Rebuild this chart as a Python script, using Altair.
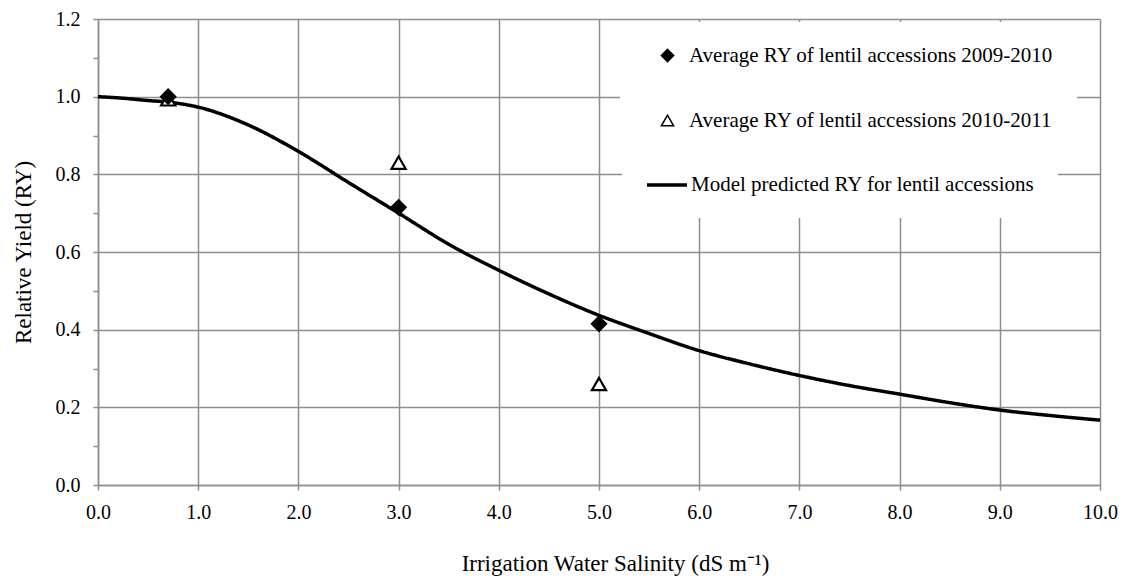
import altair as alt
import pandas as pd

# Model curve
curve_x = [0.0, 0.25, 0.5, 0.7, 1.0, 1.5, 2.0, 2.5, 3.0, 3.5, 4.0, 4.5, 5.0, 5.5,
           6.0, 6.5, 7.0, 7.5, 8.0, 8.5, 9.0, 9.5, 10.0]
curve_y = [1.0, 0.996, 0.99, 0.986, 0.973, 0.927, 0.859, 0.779, 0.700, 0.620, 0.553,
           0.492, 0.437, 0.390, 0.346, 0.312, 0.282, 0.256, 0.234, 0.212, 0.193, 0.179, 0.167]

# Observations
s1_name = "Average RY of lentil accessions 2009-2010"
s2_name = "Average RY of lentil accessions 2010-2011"
line_name = "Model predicted RY for lentil accessions"
s1_x = [0.7, 3.0, 5.0]
s1_y = [1.0, 0.715, 0.415]
s2_x = [0.7, 3.0, 5.0]
s2_y = [0.993, 0.83, 0.26]

FONT = "Liberation Serif"
GRID = "#8e8e8e"

curve_df = pd.DataFrame({"x": curve_x, "y": curve_y, "series": line_name})
pts_df = pd.DataFrame({
    "x": s2_x + s1_x,
    "y": s2_y + s1_y,
    "series": [s2_name] * len(s2_x) + [s1_name] * len(s1_x),
})

x_enc = alt.X(
    "x:Q",
    scale=alt.Scale(domain=[0, 10], nice=False),
    axis=alt.Axis(
        values=list(range(0, 11)),
        format=".1f",
        title="Irrigation Water Salinity (dS m⁻¹)",
        titleX=517,
        titlePadding=30,
        labelPadding=12,
        labelFlush=False,
    ),
)
y_enc = alt.Y(
    "y:Q",
    scale=alt.Scale(domain=[0, 1.2], nice=False),
    axis=alt.Axis(
        values=[round(i * 0.1, 1) for i in range(0, 13)],
        labelExpr="round(datum.value*10) % 2 == 0 ? format(datum.value, '.1f') : ''",
        gridOpacity={"condition": {"test": "round(datum.value*10) % 2 == 1", "value": 0}, "value": 1},
        title="Relative Yield (RY)",
        titlePadding=20,
        labelPadding=13,
        labelFlush=False,
    ),
)

pt_legend = alt.Legend(
    title=None,
    orient="none",
    legendX=522,
    legendY=3,
    padding=23,
    fillColor="white",
    symbolOffset=14,
    symbolSize=150,
    symbolStrokeColor="black",
    symbolStrokeWidth=1.5,
    labelOffset=11,
    rowPadding=43,
    labelFont=FONT,
    labelFontSize=21,
    labelColor="black",
    labelLimit=600,
)

shape_scale = alt.Scale(domain=[s1_name, s2_name], range=["diamond", "triangle-up"])
fill_scale = alt.Scale(domain=[s1_name, s2_name], range=["black", "white"])

points = alt.Chart(pts_df).mark_point(
    filled=True, stroke="black", strokeWidth=2.2, size=200, opacity=1
).encode(
    x=x_enc,
    y=y_enc,
    shape=alt.Shape("series:N", scale=shape_scale, legend=pt_legend),
    color=alt.Color("series:N", scale=fill_scale, legend=pt_legend),
)

line = alt.Chart(curve_df).mark_line(
    color="black", strokeWidth=3.5, interpolate="monotone"
).encode(
    x=x_enc,
    y=y_enc,
    strokeDash=alt.StrokeDash(
        "series:N",
        scale=alt.Scale(domain=[line_name], range=[[1, 0]]),
        legend=alt.Legend(
            title=None,
            orient="none",
            legendX=524,
            legendY=121,
            padding=23,
            fillColor="white",
            symbolType="stroke",
            symbolSize=1600,
            symbolStrokeColor="black",
            symbolStrokeWidth=3.5,
            labelOffset=2,
            labelFont=FONT,
            labelFontSize=21,
            labelColor="black",
            labelLimit=600,
        ),
    ),
)

chart = alt.layer(line, points).resolve_legend(
    strokeDash="independent"
).properties(
    width=1002,
    height=466,
    autosize=alt.AutoSizeParams(type="none"),
    padding={"left": 90, "top": 11, "right": 21, "bottom": 91},
).configure_view(
    stroke=None
).configure_axis(
    labelFont=FONT,
    labelFontSize=20,
    labelColor="black",
    titleFont=FONT,
    titleFontSize=23,
    titleFontWeight="normal",
    titleColor="black",
    gridColor=GRID,
    gridWidth=1.5,
    domainColor=GRID,
    domainWidth=1.5,
    tickColor=GRID,
    tickWidth=1.5,
    tickSize=5,
)

chart.save("out.html", embed_options={"renderer": "svg", "actions": False})
